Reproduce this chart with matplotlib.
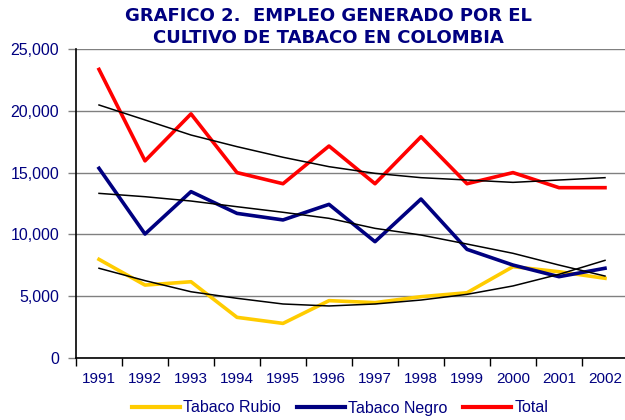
import matplotlib
matplotlib.use("Agg")
import matplotlib.pyplot as plt
from matplotlib.ticker import FuncFormatter

# Empleo generado por el cultivo de tabaco
years = ["1991", "1992", "1993", "1994", "1995", "1996",
         "1997", "1998", "1999", "2000", "2001", "2002"]
rubio = [7980, 5900, 6170, 3290, 2800, 4640, 4480, 4960, 5280, 7390, 6980, 6450]
negro = [15350, 10030, 13460, 11700, 11170, 12430, 9410, 12860, 8790, 7520, 6580, 7260]
total = [23350, 15950, 19750, 15000, 14100, 17150, 14100, 17900, 14100, 15000, 13780, 13780]

# lineas de tendencia (polinomicas en el original)
trend_rubio = [7260, 6260, 5360, 4830, 4370, 4210, 4370, 4690, 5150, 5830, 6770, 7900]
trend_negro = [13320, 13050, 12700, 12240, 11790, 11300, 10490, 9950, 9220, 8470, 7520, 6630]
trend_total = [20470, 19260, 18040, 17100, 16240, 15480, 14940, 14590, 14400, 14210, 14400, 14590]

NAVY = "#000080"
plt.rcParams["font.family"] = ["Liberation Sans", "DejaVu Sans"]

fig = plt.figure(figsize=(6.25, 4.2), dpi=100)
ax = fig.add_axes([76 / 625, 62 / 420, 552 / 625, 309 / 420])

x = range(len(years))
ax.plot(x, rubio, color="#FFCC00", lw=2.6, label="Tabaco Rubio", zorder=3)
ax.plot(x, negro, color=NAVY, lw=2.6, label="Tabaco Negro", zorder=3)
ax.plot(x, total, color="#FF0000", lw=2.6, label="Total", zorder=3)
for tr in (trend_rubio, trend_negro, trend_total):
    ax.plot(x, tr, color="black", lw=1.1, zorder=4)

ax.set_xlim(-0.5, len(years) - 0.5)
ax.set_ylim(0, 25000)
ax.set_yticks(range(0, 25001, 5000))
ax.yaxis.set_major_formatter(FuncFormatter(lambda v, p: f"{int(v):,}"))
ax.grid(axis="y", color="#808080", lw=1.0)
ax.set_axisbelow(True)

# ticks at category boundaries, labels at centres
ax.set_xticks([i - 0.5 for i in range(len(years) + 1)])
ax.set_xticklabels([])
ax.set_xticks(list(x), minor=True)
ax.set_xticklabels(years, minor=True)
ax.tick_params(axis="x", which="minor", length=0, pad=10, labelsize=11, labelcolor=NAVY)
ax.tick_params(axis="x", which="major", length=6, width=1, color="black")
ax.tick_params(axis="y", length=6, width=1, color="#808080", labelsize=11.5,
               labelcolor=NAVY, pad=6)

for s in ("top", "right"):
    ax.spines[s].set_visible(False)
for s in ("left", "bottom"):
    ax.spines[s].set_color("black")
    ax.spines[s].set_linewidth(1.2)

title_kw = dict(ha="center", va="center", fontsize=13, fontweight="bold",
                color=NAVY, family="DejaVu Sans")
fig.text(0.525, 1 - 16 / 420, "GRAFICO 2.  EMPLEO GENERADO POR EL", **title_kw)
fig.text(0.525, 1 - 38 / 420, "CULTIVO DE TABACO EN COLOMBIA", **title_kw)

leg = fig.legend(loc="center", bbox_to_anchor=(340 / 625, 1 - 408 / 420), ncol=3,
                 frameon=False, fontsize=11.5, handlelength=3.0, handletextpad=0.2,
                 columnspacing=1.0, borderpad=0)
for t in leg.get_texts():
    t.set_color(NAVY)
for h in leg.get_lines():
    h.set_linewidth(3)

fig.savefig("out.png", dpi=100)
